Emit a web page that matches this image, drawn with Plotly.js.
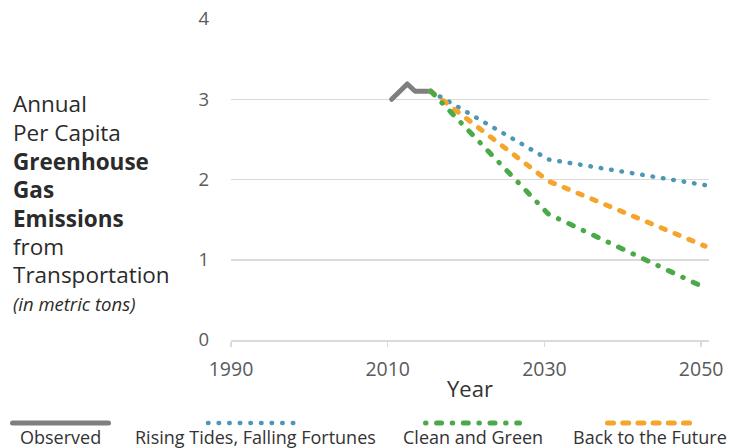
<!DOCTYPE html>
<html><head><meta charset="utf-8">
<script src="https://cdn.plot.ly/plotly-3.0.1.min.js"></script>
<style>
html,body{margin:0;padding:0;background:#fff;}
#chart{width:731px;height:448px;}
.scatterlayer .js-line, .shapelayer path {stroke-linecap:round; stroke-linejoin:round;}
</style></head><body><div id="chart"></div>
<script>
// ---- data ----
const observedYears = [2010, 2012, 2013, 2015];
const observedValues = [3.0, 3.19, 3.1, 3.1];
const scenarioYears = [2015, 2020, 2025, 2030, 2035, 2040, 2045, 2050];
const risingTides = [3.1, 2.82, 2.53, 2.25, 2.17, 2.09, 2.01, 1.93];
const cleanGreen = [3.1, 2.58, 2.08, 1.57, 1.34, 1.11, 0.88, 0.65];
const backFuture = [3.1, 2.73, 2.36, 1.98, 1.78, 1.58, 1.37, 1.17];
const seriesNames = ["Observed", "Rising Tides, Falling Fortunes", "Clean and Green", "Back to the Future"];
const xTickLabels = [1990, 2010, 2030, 2050];
const yTickValues = [0, 1, 2, 3, 4];
const titleLines = ["Annual", "Per Capita", "<b>Greenhouse</b>", "<b>Gas</b>", "<b>Emissions</b>", "from", "Transportation", "<i>(in metric tons)</i>"];

// ---- style ----
const colors = ["#7f7f7f", "#4b97b4", "#4aaa47", "#f5a52b"];
const FONT = "Open Sans, sans-serif";
const W = 731, H = 448;
const M = {l: 231, r: 22, t: 19, b: 108};
const PW = W - M.l - M.r, PH = H - M.t - M.b;
const px = x => (x - M.l) / PW;
const py = y => (H - M.b - y) / PH;
// reference draws year ticks half a year left of the plotted yearly values
const tickShift = 0.5;

const traces = [
  {x: observedYears, y: observedValues, name: seriesNames[0], mode: "lines",
   line: {color: colors[0], width: 5}},
  {x: scenarioYears, y: risingTides, name: seriesNames[1], mode: "lines",
   line: {color: colors[1], width: 4.5, dash: "0.5px,10px"}},
  {x: scenarioYears, y: backFuture, name: seriesNames[3], mode: "lines",
   line: {color: colors[3], width: 5, dash: "4.5px,10.5px"}},
  {x: scenarioYears, y: cleanGreen, name: seriesNames[2], mode: "lines",
   line: {color: colors[2], width: 5, dash: "5px,11px,0.5px,11px"}}
];

// legend samples drawn above their labels, like the reference
const legendY = 423, legendTextY = 437;
const legendItems = [
  {x0: 12.5, x1: 108.5, color: colors[0], width: 5, dash: "solid", cx: 60, name: seriesNames[0]},
  {x0: 208, x1: 294, color: colors[1], width: 4.5, dash: "0.5px,10.1px", cx: 255, name: seriesNames[1]},
  {x0: 425.5, x1: 519.5, color: colors[2], width: 5, dash: "0.5px,10.6px,5px,10.6px", cx: 473, name: seriesNames[2]},
  {x0: 607.5, x1: 689.5, color: colors[3], width: 5, dash: "6px,9.2px", cx: 650, name: seriesNames[3]}
];
const shapes = legendItems.map(it => ({
  type: "line", xref: "paper", yref: "paper",
  x0: px(it.x0), x1: px(it.x1), y0: py(legendY), y1: py(legendY),
  line: {color: it.color, width: it.width, dash: it.dash}
}));
const annotations = legendItems.map(it => ({
  xref: "paper", yref: "paper", x: px(it.cx), y: py(legendTextY),
  xanchor: "center", yanchor: "middle", showarrow: false,
  text: it.name,
  font: {family: FONT, size: 18, color: "#333"}
}));
const titleY = [103, 132, 161, 189, 218, 246, 274, 303];
titleLines.forEach((t, i) => annotations.push({
  xref: "paper", yref: "paper", x: px(11), y: py(titleY[i]),
  xanchor: "left", yanchor: "middle", align: "left", showarrow: false,
  text: t,
  font: {family: FONT, size: i === 7 ? 18.5 : 22.5, color: "#2b2b2b"}
}));

const layout = {
  width: W, height: H,
  margin: M,
  paper_bgcolor: "#fff", plot_bgcolor: "#fff",
  showlegend: false,
  font: {family: FONT, color: "#555"},
  xaxis: {
    range: [1989.5, 2050.5],
    tickvals: xTickLabels.map(v => v - tickShift), ticktext: xTickLabels.map(String),
    showgrid: false, zeroline: false,
    showline: true, linecolor: "#dadada", linewidth: 1.5,
    ticks: "outside", ticklen: 5, tickcolor: "#dadada", tickwidth: 1.5,
    tickfont: {family: FONT, size: 19.5, color: "#5a5a5a"},
    ticklabelstandoff: 6,
    title: {text: "Year", font: {family: FONT, size: 22, color: "#333"}, standoff: 0}
  },
  yaxis: {
    range: [0, 4], tickvals: yTickValues,
    showgrid: true, gridcolor: "#dadada", gridwidth: 1.5,
    zeroline: false, showline: false, ticks: "",
    tickfont: {family: FONT, size: 18.5, color: "#5a5a5a"},
    ticklabelstandoff: 21
  },
  shapes: shapes,
  annotations: annotations
};

Plotly.newPlot("chart", traces, layout, {displayModeBar: false, staticPlot: true});
</script></body></html>
